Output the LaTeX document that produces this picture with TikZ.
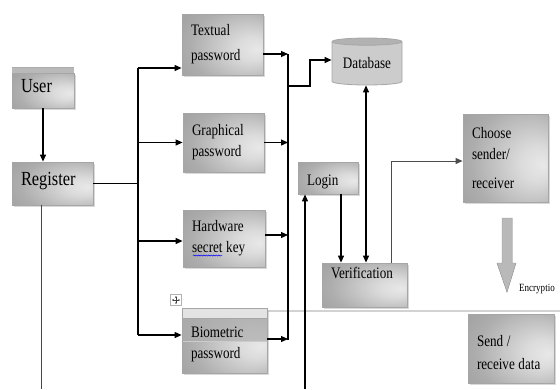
\documentclass[tikz,border=0pt]{standalone}
\usepackage{fontspec}
\setmainfont{Liberation Serif}[FakeStretch=0.82]
\usetikzlibrary{arrows.meta,shapes.geometric,shadows,decorations.pathmorphing}
\pgfdeclareradialshading{boxshade}{\pgfpoint{22bp}{-4bp}}{color(0bp)=(gray!18); color(10bp)=(gray!28); color(32bp)=(gray!64); color(55bp)=(gray!84); color(70bp)=(gray!86)}
\newcommand{\wsp}{\hspace{3.6pt}}
\begin{document}
\begin{tikzpicture}[x=1pt,y=-1pt,
  box/.style={draw=gray!70, line width=0.8pt, shade, shading=boxshade,
    drop shadow={shadow xshift=2pt, shadow yshift=-2pt, fill=gray!55, opacity=0.55},
    align=left, inner xsep=9pt, inner ysep=0pt, font=\fontsize{16}{21}\selectfont},
  bigtext/.style={font=\fontsize{20}{22}\selectfont},
  arr/.style={draw=black, line width=1.1pt, -{Triangle[length=7pt,width=6pt]}},
  arrb/.style={draw=black, line width=1.1pt, {Triangle[length=7pt,width=6pt]}-{Triangle[length=7pt,width=6pt]}},
  arrg/.style={draw=gray!60!black, line width=0.9pt, -{Triangle[length=7pt,width=6pt]}},
  plain/.style={draw=black, line width=1.1pt},
  plaing/.style={draw=gray!55!black, line width=0.9pt}]
\useasboundingbox (0,0) rectangle (560,389);

% separator
\draw[gray!35, line width=2.5pt] (267,311) -- (560,311);

% boxes
\fill[gray!55] (12,67) rectangle (74,73);
\draw[gray!65, line width=0.5pt] (12,67) -- (74,67);
\node[box, bigtext, minimum width=62pt, minimum height=35pt, text width=44pt, text depth=10pt] (User) at (43,90.5) {User};
\node[box, bigtext, minimum width=81pt, minimum height=43pt, text width=63pt, text depth=10pt] (Register) at (52.5,183.5) {Register};
\node[box, minimum width=81pt, minimum height=61pt, text width=63pt] (Textual) at (222.5,44.5) {Textual\\[4pt]password};
\node[box, minimum width=81pt, minimum height=59pt, text width=63pt] (Graphical) at (223.5,142.5) {Graphical\\password};
\node[box, minimum width=82pt, minimum height=57pt, text width=64pt] (Hardware) at (224,238.5) {Hardware\\secret\wsp key};
\node[box, minimum width=85pt, minimum height=65pt, text width=67pt, text height=17.5pt,
  path picture={
    \fill[gray!22] (path picture bounding box.north west) rectangle ([yshift=-10pt]path picture bounding box.north east);
    \fill[gray!65, opacity=0.7] ([yshift=-10pt]path picture bounding box.north west) rectangle ([yshift=-33pt]path picture bounding box.north east);
    \draw[gray!70, line width=0.4pt] ([yshift=-10pt]path picture bounding box.north west) -- ([yshift=-10pt]path picture bounding box.north east);
    \draw[gray!40, line width=0.4pt] ([yshift=-33pt]path picture bounding box.north west) -- ([yshift=-33pt]path picture bounding box.north east);
  }] (Biometric) at (224.5,340.5) {Biometric\\password};
\node[box, minimum width=60pt, minimum height=32pt, text width=42pt, text height=17.5pt] (Login) at (328,178) {Login};
\node[box, minimum width=85pt, minimum height=44pt, text width=67pt, text depth=25pt] (Verification) at (364.5,285) {Verification};
\node[box, minimum width=85pt, minimum height=88pt, text width=67pt] (Choose) at (505.5,158) {Choose\\sender/\\[8pt]receiver};
\node[box, minimum width=86pt, minimum height=69pt, text width=68pt, text depth=15pt] (Send) at (511,348.5) {Send\wsp/\\[2pt]receive\wsp data};
\node[cylinder, shape border rotate=90, aspect=0.15, draw=gray!70, line width=0.8pt,
  cylinder uses custom fill, cylinder body fill=gray!40, cylinder end fill=gray!60,
  minimum height=47pt, minimum width=70pt, inner sep=0pt, font=\fontsize{16}{21}\selectfont] (Database) at (367,63.5) {Database};

% spell-check underline
\draw[blue, line width=0.5pt, decorate, decoration={snake, amplitude=0.6pt, segment length=2.5pt}] (193,255.5) -- (222,255.5);

% move handle
\node[draw=gray!60, fill=white, minimum size=11pt, inner sep=0pt] (mv) at (176,300) {};
\draw[gray!50!black, line width=0.4pt, {Triangle[length=1.5pt,width=1.8pt]}-{Triangle[length=1.5pt,width=1.8pt]}] ([xshift=-4pt]mv.center) -- ([xshift=4pt]mv.center);
\draw[gray!50!black, line width=0.4pt, {Triangle[length=1.5pt,width=1.8pt]}-{Triangle[length=1.5pt,width=1.8pt]}] ([yshift=-4pt]mv.center) -- ([yshift=4pt]mv.center);

% encryption arrow
\filldraw[draw=gray!70, line width=0.5pt, left color=gray!55, middle color=white, right color=gray!55]
  (502,218) -- (512,218) -- (512,263) -- (516,263) -- (507,292) -- (497,263) -- (502,263) -- cycle;
\node[anchor=base west, inner sep=0pt, font=\fontsize{11}{13}\selectfont] (enc) at (519,291) {Encryptio};

% coordinates
\coordinate (busT) at (138,68);
\coordinate (busB) at (138,335);
\coordinate (hwIn) at (138,241);
\coordinate (colT) at (288,54);
\coordinate (colB) at (288,340);
\coordinate (hwOut) at (288,235);
\coordinate (bioOut) at (288,339);
\coordinate (br1) at (288,86);
\coordinate (br2) at (310,60);
\coordinate (lgIn) at (305,389);
\coordinate (lv) at (341,0);
\coordinate (dv) at (366,0);
\coordinate (vcT) at (391,161);
\coordinate (rgEnd) at (41,389);

% connectors
\draw[arr] (User.south) -- (User.south |- Register.north);
\draw[plaing] (rgEnd |- Register.south) -- (rgEnd);
\draw[plain] (Register.east) -- (Register.east -| busT);
\draw[plain] (busT) -- (busB);
\draw[arr] (busT) -- (busT -| Textual.west);
\draw[arr] (Graphical.west -| busT) -- (Graphical.west);
\draw[arr] (hwIn) -- (hwIn -| Hardware.west);
\draw[arr] (busB) -- (busB -| Biometric.west);

\draw[arr] (Textual.east |- colT) -- (colT);
\draw[arr] (Graphical.east) -- (Graphical.east -| colT);
\draw[arr] (hwOut -| Hardware.east) -- (hwOut);
\draw[arr] (bioOut -| Biometric.east) -- (bioOut);
\draw[plain] (colT) -- (colB);
\draw[arr] (br1) -| (br2) -- (br2 -| Database.west);

\draw[arr] (lgIn) -- (lgIn |- Login.south);
\draw[arr] (Login.south -| lv) -- (Verification.north -| lv);
\draw[arrb] (Database.south -| dv) -- (Verification.north -| dv);
\draw[arrg] (Verification.north -| vcT) -- (vcT) -- (vcT -| Choose.west);
\end{tikzpicture}
\end{document}
